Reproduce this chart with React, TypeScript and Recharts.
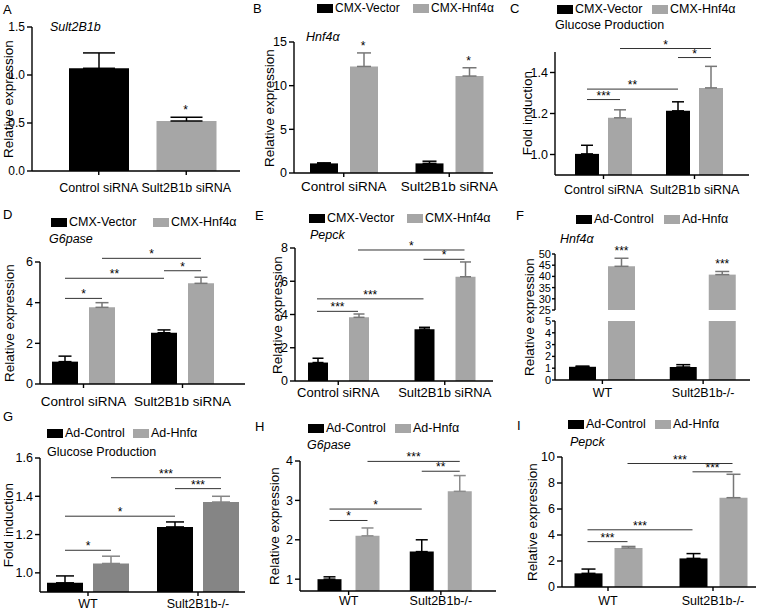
import React from 'react';
import { BarChart, Bar, XAxis, YAxis, ErrorBar, ReferenceLine, ReferenceDot, Cell } from 'recharts';

// ---------- shared labels ----------
const SIRNA_GROUPS = ['Control siRNA', 'Sult2B1b siRNA'];
const GENOTYPES = ['WT', 'Sult2B1b-/-'];
const CMX_SERIES = ['CMX-Vector', 'CMX-Hnf4α'];
const AD_SERIES = ['Ad-Control', 'Ad-Hnfα'];

// ---------- A: Sult2B1b ----------
const aValues = [1.07, 0.52];
const aErrors = [0.16, 0.04];
const aTicks = [0, 0.5, 1.0, 1.5];

// ---------- B: Hnf4a ----------
const bVector = [1.1, 1.1];
const bVectorErr = [0.06, 0.25];
const bHnf = [12.2, 11.1];
const bHnfErr = [1.55, 0.95];
const bTicks = [0, 5, 10, 15];

// ---------- C: Glucose production ----------
const cVector = [1.003, 1.213];
const cVectorErr = [0.042, 0.044];
const cHnf = [1.179, 1.325];
const cHnfErr = [0.039, 0.105];
const cTicks = [1.0, 1.2, 1.4];

// ---------- D: G6pase ----------
const dVector = [1.1, 2.52];
const dVectorErr = [0.27, 0.14];
const dHnf = [3.77, 4.95];
const dHnfErr = [0.23, 0.3];
const dTicks = [0, 2, 4, 6];

// ---------- E: Pepck ----------
const eVector = [1.11, 3.12];
const eVectorErr = [0.26, 0.11];
const eHnf = [3.83, 6.27];
const eHnfErr = [0.2, 0.89];
const eTicks = [0, 2, 4, 6, 8];

// ---------- F: Hnf4a (broken axis) ----------
const fControl = [1.12, 1.1];
const fControlErr = [0.06, 0.2];
const fHnf = [44.5, 40.8];
const fHnfErr = [3.6, 1.4];
const fUpperTicks = [25, 30, 35, 40, 45, 50];
const fLowerTicks = [0, 1, 2, 3, 4, 5];

// ---------- G: Glucose production ----------
const gControl = [0.948, 1.24];
const gControlErr = [0.036, 0.026];
const gHnf = [1.049, 1.37];
const gHnfErr = [0.038, 0.03];
const gTicks = [1.0, 1.2, 1.4, 1.6];

// ---------- H: G6pase ----------
const hControl = [1.0, 1.7];
const hControlErr = [0.06, 0.3];
const hHnf = [2.1, 3.23];
const hHnfErr = [0.2, 0.4];
const hTicks = [1, 2, 3, 4];

// ---------- I: Pepck ----------
const iControl = [1.05, 2.2];
const iControlErr = [0.33, 0.37];
const iHnf = [3.0, 6.87];
const iHnfErr = [0.12, 1.8];
const iTicks = [0, 2, 4, 6, 8, 10];

// significance brackets: [group, series] -> [group, series] at height y
type Sig = { a: [number, number]; b: [number, number]; y: number; label: string };
const cSig: Sig[] = [
  { a: [0, 0], b: [0, 1], y: 1.268, label: '***' },
  { a: [0, 0], b: [1, 0], y: 1.319, label: '**' },
  { a: [0, 1], b: [1, 1], y: 1.517, label: '*' },
  { a: [1, 0], b: [1, 1], y: 1.473, label: '*' },
];
const dSig: Sig[] = [
  { a: [0, 0], b: [0, 1], y: 4.21, label: '*' },
  { a: [0, 0], b: [1, 0], y: 5.2, label: '**' },
  { a: [0, 1], b: [1, 1], y: 6.18, label: '*' },
  { a: [1, 0], b: [1, 1], y: 5.57, label: '*' },
];
const eSig: Sig[] = [
  { a: [0, 0], b: [0, 1], y: 4.19, label: '***' },
  { a: [0, 0], b: [1, 0], y: 4.94, label: '***' },
  { a: [0, 1], b: [1, 1], y: 7.88, label: '*' },
  { a: [1, 0], b: [1, 1], y: 7.32, label: '*' },
];
const gSig: Sig[] = [
  { a: [0, 0], b: [0, 1], y: 1.118, label: '*' },
  { a: [0, 0], b: [1, 0], y: 1.296, label: '*' },
  { a: [0, 1], b: [1, 1], y: 1.497, label: '***' },
  { a: [1, 0], b: [1, 1], y: 1.44, label: '***' },
];
const hSig: Sig[] = [
  { a: [0, 0], b: [0, 1], y: 2.49, label: '*' },
  { a: [0, 0], b: [1, 0], y: 2.78, label: '*' },
  { a: [0, 1], b: [1, 1], y: 3.99, label: '***' },
  { a: [1, 0], b: [1, 1], y: 3.74, label: '**' },
];
const iSig: Sig[] = [
  { a: [0, 0], b: [0, 1], y: 3.49, label: '***' },
  { a: [0, 0], b: [1, 0], y: 4.4, label: '***' },
  { a: [0, 1], b: [1, 1], y: 9.5, label: '***' },
  { a: [1, 0], b: [1, 1], y: 8.86, label: '***' },
];

// ---------- styling ----------
const FONT = "Arial, 'Liberation Sans', Helvetica, sans-serif";
const BLACK = '#000000';
const GRAY = '#a6a6a6';
const DARK_GRAY = '#858585';
const ERR_GRAY = '#777777';

type Series = { name: string; color: string; values: number[]; errors: number[]; errColor: string; showErr?: boolean };
type Star = { g: number; s: number; label: string };

type PanelProps = {
  plot: [number, number, number, number];
  domain: [number, number];
  ticks: number[];
  decimals: number;
  categories: string[];
  series: Series[];
  cellColors?: string[];
  barSize: number;
  barGap: number;
  pad: [number, number];
  errWidth: number;
  sigs?: Sig[];
  stars?: Star[];
  fs: number;
  yfs: number;
  xMargin: number;
  yTickSize?: number;
  hideX?: boolean;
};

function Panel(p: PanelProps) {
  const [L, T, R, B] = p.plot;
  const yw = Math.min(34, L);
  const mt = 24;
  const mr = Math.max(0, Math.min(6, 760 - R));
  const xh = 30;
  const mb = p.hideX ? 8 : 0;
  const left = L - yw;
  const top = T - mt;
  const width = R - left + mr;
  const height = B - top + (p.hideX ? mb : xh);
  const nC = p.categories.length;
  const nS = p.series.length;
  const band = (R - L - p.pad[0] - p.pad[1]) / nC;
  const total = nS * p.barSize + (nS - 1) * p.barGap;
  const off = Math.trunc((band - total) / 2);
  // bar centre on a hidden linear axis whose domain [0,1] spans the padded category range
  const cx = (g: number, s: number) => (g * band + off + p.barSize / 2 + s * (p.barSize + p.barGap)) / (band * nC);
  const data = p.categories.map((c, i) => {
    const row: any = { name: c };
    p.series.forEach((s, k) => {
      row['v' + k] = s.values[i];
      row['e' + k] = [0, s.errors[i]];
    });
    return row;
  });
  const axisStyle = { stroke: '#000', strokeWidth: 1.4 };
  return (
    <div style={{ position: 'absolute', left, top }}>
      <BarChart
        width={width}
        height={height}
        data={data}
        margin={{ top: mt, right: mr, bottom: mb, left: 0 }}
        barSize={p.barSize}
        barGap={p.barGap}
      >
        <XAxis
          dataKey="name"
          hide={p.hideX}
          padding={{ left: p.pad[0], right: p.pad[1] }}
          interval={0}
          tickSize={4}
          tickMargin={p.xMargin}
          height={xh}
          tick={{ fontSize: p.fs, fill: '#000' }}
          axisLine={axisStyle}
          tickLine={axisStyle}
        />
        <XAxis
          xAxisId="n"
          type="number"
          domain={[0, 1]}
          allowDataOverflow
          hide
          padding={{ left: p.pad[0], right: p.pad[1] }}
        />
        <YAxis
          domain={p.domain}
          ticks={p.ticks}
          allowDataOverflow
          interval={0}
          width={yw}
          tickSize={p.yTickSize ?? 5}
          tickMargin={p.yTickSize != null ? 1 : 2}
          tick={{ fontSize: p.yfs, fill: '#000' }}
          tickFormatter={(v: number) => v.toFixed(p.decimals)}
          axisLine={axisStyle}
          tickLine={axisStyle}
        />
        {p.series.map((s, k) => (
          <Bar key={k} dataKey={'v' + k} name={s.name} fill={s.color} isAnimationActive={false}>
            {p.cellColors ? p.cellColors.map((c, i) => <Cell key={i} fill={c} />) : null}
            {s.showErr !== false ? (
              <ErrorBar
                dataKey={'e' + k}
                width={p.errWidth}
                strokeWidth={1.5}
                stroke={s.errColor}
                direction="y"
                isAnimationActive={false}
              />
            ) : null}
          </Bar>
        ))}
        {(p.sigs || []).map((sg, i) => (
          <ReferenceLine
            key={'sig' + i}
            xAxisId="n"
            ifOverflow="visible"
            segment={[
              { x: cx(sg.a[0], sg.a[1]), y: sg.y },
              { x: cx(sg.b[0], sg.b[1]), y: sg.y },
            ]}
            stroke="#333"
            strokeWidth={1}
            label={{ value: sg.label, position: 'top', offset: 0, fontSize: 12, fill: '#000' }}
          />
        ))}
        {(p.stars || []).map((st, i) => (
          <ReferenceDot
            key={'star' + i}
            xAxisId="n"
            ifOverflow="visible"
            x={cx(st.g, st.s)}
            y={p.series[st.s].values[st.g] + p.series[st.s].errors[st.g]}
            r={0}
            fill="none"
            stroke="none"
            label={{ value: st.label, position: 'top', offset: 3, fontSize: 12, fill: '#000' }}
          />
        ))}
      </BarChart>
    </div>
  );
}

function Txt({ x, y, fs, italic, children }: { x: number; y: number; fs: number; italic?: boolean; children: any }) {
  return (
    <div
      style={{
        position: 'absolute',
        left: x,
        top: y - fs * 0.6,
        fontSize: fs,
        lineHeight: `${fs * 1.2}px`,
        fontStyle: italic ? 'italic' : 'normal',
        whiteSpace: 'nowrap',
      }}
    >
      {children}
    </div>
  );
}

function YLabel({ cx, cy, fs, children }: { cx: number; cy: number; fs: number; children: any }) {
  return (
    <div
      style={{
        position: 'absolute',
        left: cx - 100,
        top: cy - fs * 0.6,
        width: 200,
        textAlign: 'center',
        fontSize: fs,
        lineHeight: `${fs * 1.2}px`,
        transform: 'rotate(-90deg)',
        transformOrigin: '50% 50%',
        whiteSpace: 'nowrap',
      }}
    >
      {children}
    </div>
  );
}

function LegendItem({ x, y, color, label, fs }: { x: number; y: number; color: string; label: string; fs: number }) {
  return (
    <div
      style={{
        position: 'absolute',
        left: x,
        top: y - fs * 0.6,
        display: 'flex',
        alignItems: 'center',
        fontSize: fs,
        lineHeight: `${fs * 1.2}px`,
        whiteSpace: 'nowrap',
      }}
    >
      <span style={{ display: 'inline-block', width: 16, height: 9, background: color, marginRight: 2 }} />
      {label}
    </div>
  );
}

function Legend2({ y, x1, x2, names, colors, fs }: { y: number; x1: number; x2: number; names: string[]; colors: string[]; fs: number }) {
  return (
    <>
      <LegendItem x={x1} y={y} color={colors[0]} label={names[0]} fs={fs} />
      <LegendItem x={x2} y={y} color={colors[1]} label={names[1]} fs={fs} />
    </>
  );
}

export default function App() {
  const two = (n0: string, v0: number[], e0: number[], c0: string, ec0: string, n1: string, v1: number[], e1: number[], c1: string, ec1: string): Series[] => [
    { name: n0, color: c0, values: v0, errors: e0, errColor: ec0 },
    { name: n1, color: c1, values: v1, errors: e1, errColor: ec1 },
  ];
  return (
    <div
      style={{
        position: 'absolute',
        left: 0,
        top: 0,
        width: 760,
        height: 611,
        background: '#fff',
        color: '#000',
        fontFamily: FONT,
        overflow: 'hidden',
      }}
    >
      {/* panel letters */}
      <Txt x={3} y={10} fs={13}>A</Txt>
      <Txt x={253} y={9} fs={13}>B</Txt>
      <Txt x={510} y={9} fs={13}>C</Txt>
      <Txt x={3} y={215} fs={13}>D</Txt>
      <Txt x={255} y={216} fs={13}>E</Txt>
      <Txt x={516} y={216} fs={13}>F</Txt>
      <Txt x={3} y={417} fs={13}>G</Txt>
      <Txt x={255} y={427} fs={13}>H</Txt>
      <Txt x={517} y={426} fs={13}>I</Txt>

      {/* titles */}
      <Txt x={50} y={27} fs={12.5} italic>Sult2B1b</Txt>
      <Txt x={306} y={37} fs={12.5} italic>Hnf4α</Txt>
      <Txt x={555} y={25} fs={12.5}>Glucose Production</Txt>
      <Txt x={49} y={239} fs={12.5} italic>G6pase</Txt>
      <Txt x={310} y={235} fs={12.5} italic>Pepck</Txt>
      <Txt x={560} y={239} fs={12.5} italic>Hnf4α</Txt>
      <Txt x={47} y={452} fs={12.5}>Glucose Production</Txt>
      <Txt x={307} y={445} fs={12.5} italic>G6pase</Txt>
      <Txt x={570} y={442} fs={12.5} italic>Pepck</Txt>

      {/* legends */}
      <Legend2 y={8} x1={317} x2={413} names={CMX_SERIES} colors={[BLACK, GRAY]} fs={12} />
      <Legend2 y={9} x1={557} x2={652} names={CMX_SERIES} colors={[BLACK, GRAY]} fs={12.5} />
      <Legend2 y={222} x1={51} x2={153} names={CMX_SERIES} colors={[BLACK, GRAY]} fs={12.5} />
      <Legend2 y={218} x1={309} x2={407} names={CMX_SERIES} colors={[BLACK, GRAY]} fs={12.5} />
      <Legend2 y={219} x1={576} x2={664} names={AD_SERIES} colors={[BLACK, GRAY]} fs={12.5} />
      <Legend2 y={433} x1={47} x2={133} names={AD_SERIES} colors={[BLACK, GRAY]} fs={12.5} />
      <Legend2 y={428} x1={308} x2={395} names={AD_SERIES} colors={[BLACK, GRAY]} fs={12.5} />
      <Legend2 y={424} x1={568} x2={655} names={AD_SERIES} colors={[BLACK, GRAY]} fs={12.5} />

      {/* y labels */}
      <YLabel cx={9} cy={99} fs={13.5}>Relative expression</YLabel>
      <YLabel cx={270} cy={108} fs={13.5}>Relative expression</YLabel>
      <YLabel cx={528} cy={113} fs={13.5}>Fold induction</YLabel>
      <YLabel cx={10} cy={323} fs={13.5}>Relative expression</YLabel>
      <YLabel cx={278} cy={315} fs={13.5}>Relative expression</YLabel>
      <YLabel cx={530} cy={317} fs={13.5}>Relative expression</YLabel>
      <YLabel cx={9} cy={525} fs={13.5}>Fold induction</YLabel>
      <YLabel cx={275} cy={526} fs={13.5}>Relative expression</YLabel>
      <YLabel cx={533} cy={522} fs={13.5}>Relative expression</YLabel>

      {/* A */}
      <Panel
        plot={[32, 27, 240, 171]}
        domain={[0, 1.5]}
        ticks={aTicks}
        decimals={1}
        categories={SIRNA_GROUPS}
        series={[{ name: 'Sult2B1b', color: BLACK, values: aValues, errors: aErrors, errColor: BLACK }]}
        cellColors={[BLACK, GRAY]}
        barSize={60}
        barGap={0}
        pad={[23, 10]}
        errWidth={16}
        stars={[{ g: 1, s: 0, label: '*' }]}
        fs={12.5}
        yfs={12}
        xMargin={8}
      />
      {/* B */}
      <Panel
        plot={[294, 42, 493, 173]}
        domain={[0, 15]}
        ticks={bTicks}
        decimals={0}
        categories={SIRNA_GROUPS}
        series={two(CMX_SERIES[0], bVector, bVectorErr, BLACK, BLACK, CMX_SERIES[1], bHnf, bHnfErr, GRAY, ERR_GRAY)}
        barSize={28}
        barGap={12}
        pad={[-3, -9]}
        errWidth={7}
        stars={[{ g: 0, s: 1, label: '*' }, { g: 1, s: 1, label: '*' }]}
        fs={13.5}
        yfs={12.5}
        xMargin={4}
      />
      {/* C */}
      <Panel
        plot={[555, 52, 749, 175]}
        domain={[0.9, 1.5]}
        ticks={cTicks}
        decimals={1}
        categories={SIRNA_GROUPS}
        series={two(CMX_SERIES[0], cVector, cVectorErr, BLACK, BLACK, CMX_SERIES[1], cHnf, cHnfErr, GRAY, ERR_GRAY)}
        barSize={24}
        barGap={9}
        pad={[3, 9]}
        errWidth={6}
        sigs={cSig}
        fs={12.5}
        yfs={12.5}
        xMargin={6}
      />
      {/* D */}
      <Panel
        plot={[40, 262, 245, 384]}
        domain={[0, 6]}
        ticks={dTicks}
        decimals={0}
        categories={SIRNA_GROUPS}
        series={two(CMX_SERIES[0], dVector, dVectorErr, BLACK, BLACK, CMX_SERIES[1], dHnf, dHnfErr, GRAY, ERR_GRAY)}
        barSize={26}
        barGap={11}
        pad={[-6, 13]}
        errWidth={6.5}
        sigs={dSig}
        fs={13.5}
        yfs={12.5}
        xMargin={8}
      />
      {/* E */}
      <Panel
        plot={[295, 248, 493, 381]}
        domain={[0, 8]}
        ticks={eTicks}
        decimals={0}
        categories={SIRNA_GROUPS}
        series={two(CMX_SERIES[0], eVector, eVectorErr, BLACK, BLACK, CMX_SERIES[1], eHnf, eHnfErr, GRAY, ERR_GRAY)}
        barSize={20}
        barGap={21}
        pad={[-10, -5]}
        errWidth={5.5}
        sigs={eSig}
        fs={13}
        yfs={12.5}
        xMargin={3}
      />
      {/* F upper */}
      <Panel
        plot={[555, 254, 750, 310]}
        domain={[25, 50]}
        ticks={fUpperTicks}
        decimals={0}
        categories={GENOTYPES}
        series={[
          { name: AD_SERIES[0], color: BLACK, values: fControl, errors: fControlErr, errColor: BLACK, showErr: false },
          { name: AD_SERIES[1], color: GRAY, values: fHnf, errors: fHnfErr, errColor: ERR_GRAY },
        ]}
        barSize={27}
        barGap={12}
        pad={[-3, -3.5]}
        errWidth={7}
        stars={[{ g: 0, s: 1, label: '***' }, { g: 1, s: 1, label: '***' }]}
        fs={12}
        yfs={11}
        yTickSize={3}
        xMargin={4}
        hideX
      />
      {/* F lower */}
      <Panel
        plot={[555, 321, 750, 380]}
        domain={[0, 5]}
        ticks={fLowerTicks}
        decimals={0}
        categories={GENOTYPES}
        series={[
          { name: AD_SERIES[0], color: BLACK, values: fControl, errors: fControlErr, errColor: BLACK },
          { name: AD_SERIES[1], color: GRAY, values: fHnf, errors: fHnfErr, errColor: ERR_GRAY, showErr: false },
        ]}
        barSize={27}
        barGap={12}
        pad={[-3, -3.5]}
        errWidth={7}
        fs={12.5}
        yfs={11}
        yTickSize={3}
        xMargin={4.5}
      />
      {/* G */}
      <Panel
        plot={[40, 458, 245, 592]}
        domain={[0.9, 1.6]}
        ticks={gTicks}
        decimals={1}
        categories={GENOTYPES}
        series={two(AD_SERIES[0], gControl, gControlErr, BLACK, BLACK, AD_SERIES[1], gHnf, gHnfErr, DARK_GRAY, DARK_GRAY)}
        barSize={36}
        barGap={10}
        pad={[-7, -8]}
        errWidth={9}
        sigs={gSig}
        fs={12.5}
        yfs={12.5}
        xMargin={3}
      />
      {/* H */}
      <Panel
        plot={[300, 461, 496, 591]}
        domain={[0.7, 4]}
        ticks={hTicks}
        decimals={0}
        categories={GENOTYPES}
        series={two(AD_SERIES[0], hControl, hControlErr, BLACK, BLACK, AD_SERIES[1], hHnf, hHnfErr, GRAY, '#8c8c8c')}
        barSize={24}
        barGap={14}
        pad={[2.5, 9]}
        errWidth={6}
        sigs={hSig}
        fs={12.5}
        yfs={12.5}
        xMargin={1}
      />
      {/* I */}
      <Panel
        plot={[562, 457, 756, 587]}
        domain={[0, 10]}
        ticks={iTicks}
        decimals={0}
        categories={GENOTYPES}
        series={two(AD_SERIES[0], iControl, iControlErr, BLACK, BLACK, AD_SERIES[1], iHnf, iHnfErr, GRAY, ERR_GRAY)}
        barSize={28}
        barGap={12}
        pad={[-6.5, -9.5]}
        errWidth={7}
        sigs={iSig}
        fs={12.5}
        yfs={12.5}
        xMargin={5.5}
      />
    </div>
  );
}
